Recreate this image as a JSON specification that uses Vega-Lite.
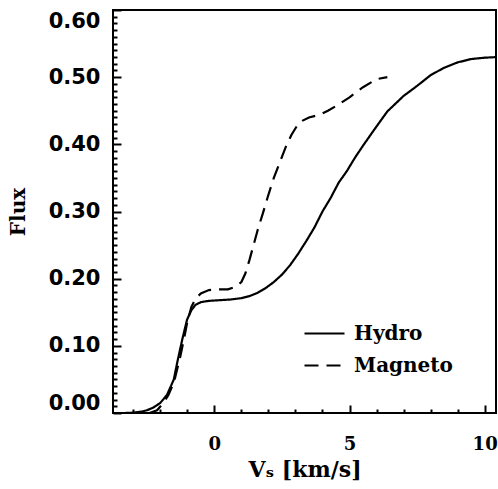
{
  "$schema": "https://vega.github.io/schema/vega-lite/v6.json",
  "width": 383,
  "height": 403,
  "autosize": {"type": "none"},
  "padding": {"left": 113, "top": 10, "right": 2, "bottom": 76},
  "background": "white",
  "config": {
    "view": {"stroke": "black", "strokeWidth": 2},
    "axis": {"domain": false, "grid": false, "labelColor": "black", "titleColor": "black", "tickColor": "black", "labelOverlap": false}
  },
  "data": {"values": [
    {"model": "Hydro", "v": -3.3, "flux": 0.0},
    {"model": "Hydro", "v": -3.0, "flux": 0.0005},
    {"model": "Hydro", "v": -2.7, "flux": 0.002},
    {"model": "Hydro", "v": -2.5, "flux": 0.004},
    {"model": "Hydro", "v": -2.26, "flux": 0.008},
    {"model": "Hydro", "v": -2.0, "flux": 0.015},
    {"model": "Hydro", "v": -1.75, "flux": 0.027},
    {"model": "Hydro", "v": -1.5, "flux": 0.05},
    {"model": "Hydro", "v": -1.38, "flux": 0.074},
    {"model": "Hydro", "v": -1.19, "flux": 0.109},
    {"model": "Hydro", "v": -1.01, "flux": 0.139},
    {"model": "Hydro", "v": -0.85, "flux": 0.153},
    {"model": "Hydro", "v": -0.7, "flux": 0.161},
    {"model": "Hydro", "v": -0.5, "flux": 0.165},
    {"model": "Hydro", "v": -0.2, "flux": 0.167},
    {"model": "Hydro", "v": 0.2, "flux": 0.168},
    {"model": "Hydro", "v": 0.6, "flux": 0.169},
    {"model": "Hydro", "v": 1.0, "flux": 0.171},
    {"model": "Hydro", "v": 1.3, "flux": 0.174},
    {"model": "Hydro", "v": 1.6, "flux": 0.179},
    {"model": "Hydro", "v": 1.9, "flux": 0.186},
    {"model": "Hydro", "v": 2.2, "flux": 0.195},
    {"model": "Hydro", "v": 2.5, "flux": 0.206},
    {"model": "Hydro", "v": 2.8, "flux": 0.220},
    {"model": "Hydro", "v": 3.1, "flux": 0.237},
    {"model": "Hydro", "v": 3.4, "flux": 0.256},
    {"model": "Hydro", "v": 3.7, "flux": 0.276},
    {"model": "Hydro", "v": 4.0, "flux": 0.300},
    {"model": "Hydro", "v": 4.3, "flux": 0.320},
    {"model": "Hydro", "v": 4.6, "flux": 0.343},
    {"model": "Hydro", "v": 4.9, "flux": 0.360},
    {"model": "Hydro", "v": 5.2, "flux": 0.380},
    {"model": "Hydro", "v": 5.5, "flux": 0.398},
    {"model": "Hydro", "v": 5.9, "flux": 0.421},
    {"model": "Hydro", "v": 6.4, "flux": 0.449},
    {"model": "Hydro", "v": 7.0, "flux": 0.472},
    {"model": "Hydro", "v": 7.5, "flux": 0.487},
    {"model": "Hydro", "v": 8.0, "flux": 0.503},
    {"model": "Hydro", "v": 8.5, "flux": 0.514},
    {"model": "Hydro", "v": 9.0, "flux": 0.522},
    {"model": "Hydro", "v": 9.5, "flux": 0.527},
    {"model": "Hydro", "v": 10.0, "flux": 0.529},
    {"model": "Hydro", "v": 10.5, "flux": 0.530},
    {"model": "Magneto", "v": -2.4, "flux": 0.0},
    {"model": "Magneto", "v": -2.12, "flux": 0.004},
    {"model": "Magneto", "v": -1.9, "flux": 0.014},
    {"model": "Magneto", "v": -1.7, "flux": 0.027},
    {"model": "Magneto", "v": -1.5, "flux": 0.045},
    {"model": "Magneto", "v": -1.26, "flux": 0.084},
    {"model": "Magneto", "v": -1.1, "flux": 0.115},
    {"model": "Magneto", "v": -1.01, "flux": 0.134},
    {"model": "Magneto", "v": -0.85, "flux": 0.158},
    {"model": "Magneto", "v": -0.7, "flux": 0.170},
    {"model": "Magneto", "v": -0.5, "flux": 0.178},
    {"model": "Magneto", "v": -0.2, "flux": 0.183},
    {"model": "Magneto", "v": 0.1, "flux": 0.184},
    {"model": "Magneto", "v": 0.5, "flux": 0.184},
    {"model": "Magneto", "v": 0.8, "flux": 0.188},
    {"model": "Magneto", "v": 1.0, "flux": 0.195},
    {"model": "Magneto", "v": 1.15, "flux": 0.208},
    {"model": "Magneto", "v": 1.3, "flux": 0.228},
    {"model": "Magneto", "v": 1.45, "flux": 0.250},
    {"model": "Magneto", "v": 1.6, "flux": 0.272},
    {"model": "Magneto", "v": 1.8, "flux": 0.298},
    {"model": "Magneto", "v": 2.0, "flux": 0.325},
    {"model": "Magneto", "v": 2.2, "flux": 0.350},
    {"model": "Magneto", "v": 2.45, "flux": 0.376},
    {"model": "Magneto", "v": 2.65, "flux": 0.397},
    {"model": "Magneto", "v": 2.85, "flux": 0.414},
    {"model": "Magneto", "v": 3.05, "flux": 0.427},
    {"model": "Magneto", "v": 3.25, "flux": 0.435},
    {"model": "Magneto", "v": 3.5, "flux": 0.440},
    {"model": "Magneto", "v": 3.9, "flux": 0.444},
    {"model": "Magneto", "v": 4.2, "flux": 0.450},
    {"model": "Magneto", "v": 4.54, "flux": 0.458},
    {"model": "Magneto", "v": 5.0, "flux": 0.470},
    {"model": "Magneto", "v": 5.5, "flux": 0.485},
    {"model": "Magneto", "v": 6.0, "flux": 0.497},
    {"model": "Magneto", "v": 6.4, "flux": 0.500}
  ]},
  "mark": {"type": "line", "color": "black", "strokeWidth": 2.2, "clip": true},
  "encoding": {
    "x": {"field": "v", "type": "quantitative",
      "scale": {"domain": [-3.75, 10.42], "nice": false, "zero": false},
      "axis": {"orient": "bottom", "values": [-3, -2, -1, 0, 1, 2, 3, 4, 5, 6, 7, 8, 9, 10],
        "tickSize": {"condition": {"test": "datum.value % 5 === 0", "value": -8}, "value": -4}, "tickWidth": 2,
        "labelExpr": "datum.value % 5 === 0 ? datum.label : ''", "labelPadding": 30,
        "labelFont": "DejaVu Serif", "labelFontWeight": "bold", "labelFontSize": 18, "labelFlush": false,
        "title": "Vₛ [km/s]", "titleFont": "DejaVu Serif", "titleFontWeight": "bold", "titleFontSize": 22, "titlePadding": 2}},
    "y": {"field": "flux", "type": "quantitative",
      "scale": {"domain": [0, 0.6], "nice": false, "zero": false},
      "axis": {"orient": "left", "values": [0,0.01,0.02,0.03,0.04,0.05,0.06,0.07,0.08,0.09,0.1,0.11,0.12,0.13,0.14,0.15,0.16,0.17,0.18,0.19,0.2,0.21,0.22,0.23,0.24,0.25,0.26,0.27,0.28,0.29,0.3,0.31,0.32,0.33,0.34,0.35,0.36,0.37,0.38,0.39,0.4,0.41,0.42,0.43,0.44,0.45,0.46,0.47,0.48,0.49,0.5,0.51,0.52,0.53,0.54,0.55,0.56,0.57,0.58,0.59,0.6],
        "format": ".2f",
        "tickSize": {"condition": {"test": "abs(datum.value * 10 - round(datum.value * 10)) < 0.001", "value": -8}, "value": -4}, "tickWidth": 2,
        "labelExpr": "abs(datum.value * 10 - round(datum.value * 10)) < 0.001 ? datum.label : ''", "labelPadding": 21,
        "labelFont": "DejaVu Sans", "labelFontWeight": "bold", "labelFontSize": 21, "labelFlush": true,
        "title": "Flux", "titleFont": "DejaVu Serif", "titleFontWeight": "bold", "titleFontSize": 20, "titlePadding": 20}},
    "strokeDash": {"field": "model", "type": "nominal",
      "scale": {"domain": ["Hydro", "Magneto"], "range": [[1, 0], [14, 8]]},
      "legend": {"orient": "none", "legendX": 190, "legendY": 302, "title": null, "symbolType": "stroke", "symbolSize": 1600,
        "symbolStrokeWidth": 2.2, "symbolStrokeColor": "black", "labelFont": "DejaVu Serif", "labelFontWeight": "bold",
        "labelFontSize": 20, "labelColor": "black", "labelOffset": 8, "rowPadding": -7}}
  }
}
